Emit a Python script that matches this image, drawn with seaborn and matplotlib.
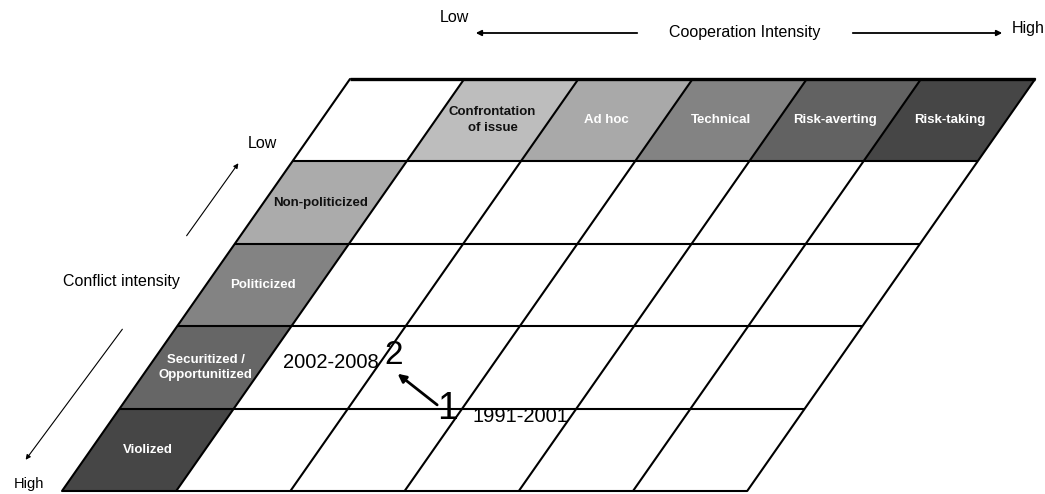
import matplotlib
matplotlib.use("Agg")
import matplotlib.pyplot as plt
from matplotlib.transforms import Affine2D
import seaborn as sns

# ---- data ----
coop_levels = ["Confrontation\nof issue", "Ad hoc", "Technical", "Risk-averting", "Risk-taking"]
conflict_levels = ["Non-politicized", "Politicized", "Securitized /\nOpportunitized", "Violized"]
coop_colors = ["#bdbdbd", "#a9a9a9", "#838383", "#626262", "#464646"]
conflict_colors = ["#ababab", "#838383", "#666666", "#464646"]
coop_text_colors = ["#111111", "white", "white", "white", "white"]
conflict_text_colors = ["#111111", "white", "white", "white"]
periods = ["1991-2001", "2002-2008"]
period_marks = ["1", "2"]
period_col = [2.87, 2.07]   # position in grid (column units)
period_row = [4.0, 3.35]    # position in grid (row units, from top)

sns.set_style("white")
plt.rcParams['font.family'] = ['Liberation Sans', 'DejaVu Sans']
plt.rcParams['text.color'] = 'black'

W, H = 1045, 494
fig = plt.figure(figsize=(W / 100, H / 100), dpi=100)
ax = fig.add_axes([0, 0, 1, 1])
ax.set_xlim(0, W)
ax.set_ylim(H, 0)
ax.axis("off")

ncols = len(coop_levels) + 1
nrows = len(conflict_levels) + 1
x0, y0 = 350.0, 79.0
cw, rh = 114.2, 82.4
shear = 57.6  # px shift left per row
grid = Affine2D().from_values(cw, 0, -shear, rh, x0, y0) + ax.transData

def cell(c, r):
    return [c, c + 1, c + 1, c], [r, r, r + 1, r + 1]

LBL = 9.5
# header cells
for i, (lab, col, tc) in enumerate(zip(coop_levels, coop_colors, coop_text_colors)):
    xs, ys = cell(i + 1, 0)
    ax.fill(xs, ys, color=col, transform=grid, lw=0, zorder=1)
    ax.text(i + 1.5, 0.5, lab, transform=grid, ha="center", va="center",
            fontsize=LBL, fontweight="bold", color=tc, linespacing=1.5, zorder=3)
for j, (lab, col, tc) in enumerate(zip(conflict_levels, conflict_colors, conflict_text_colors)):
    xs, ys = cell(0, j + 1)
    ax.fill(xs, ys, color=col, transform=grid, lw=0, zorder=1)
    ax.text(0.5, j + 1.5, lab, transform=grid, ha="center", va="center",
            fontsize=LBL, fontweight="bold", color=tc, linespacing=1.4, zorder=3)

# grid lines
for r in range(nrows + 1):
    ax.plot([0, ncols], [r, r], color="black", lw=2.4 if r == 0 else 1.5,
            transform=grid, zorder=2, solid_capstyle="butt")
for c in range(ncols + 1):
    ax.plot([c, c], [0, nrows], color="black", lw=1.5, transform=grid, zorder=2)

# period trajectory (grid units -> data pixels)
to_data = ax.transData.inverted()
pts = [to_data.transform(grid.transform((c, r))) for c, r in zip(period_col, period_row)]
sizes = [27, 24]
for (px, py), mark, s in zip(pts, period_marks, sizes):
    ax.text(px, py, mark, ha="center", va="center", fontsize=s, color="black", zorder=4)
ax.annotate("", xy=(pts[1][0] + 2, pts[1][1] + 17), xytext=(pts[0][0] - 8, pts[0][1] - 2),
            arrowprops=dict(arrowstyle="-|>", color="black", lw=2, mutation_scale=12), zorder=4)
ax.text(pts[0][0] + 25, pts[0][1] + 8, periods[0], ha="left", va="center", fontsize=14.5, zorder=4)
ax.text(pts[1][0] - 15, pts[1][1] + 7, periods[1], ha="right", va="center", fontsize=14.5, zorder=4)

# cooperation axis
AX = 11.5
ax.text(440, 18, "Low", ha="left", va="center", fontsize=AX)
ax.text(745, 33, "Cooperation Intensity", ha="center", va="center", fontsize=AX)
ax.text(1012, 28, "High", ha="left", va="center", fontsize=AX)
ax.annotate("", xy=(473, 33), xytext=(640, 33),
            arrowprops=dict(arrowstyle="-|>", color="black", lw=1.3, mutation_scale=8))
ax.annotate("", xy=(1005, 33), xytext=(850, 33),
            arrowprops=dict(arrowstyle="-|>", color="black", lw=1.3, mutation_scale=8))

# conflict axis
ax.text(248, 143, "Low", ha="left", va="center", fontsize=AX)
ax.text(63, 281, "Conflict intensity", ha="left", va="center", fontsize=AX)
ax.text(14, 484, "High", ha="left", va="center", fontsize=10.5)
ax.annotate("", xy=(24, 462), xytext=(124, 327),
            arrowprops=dict(arrowstyle="-|>", color="black", lw=0.8, mutation_scale=7))
ax.annotate("", xy=(240, 161), xytext=(185, 238),
            arrowprops=dict(arrowstyle="-|>", color="black", lw=0.8, mutation_scale=7))

fig.savefig("out.png", dpi=100)
